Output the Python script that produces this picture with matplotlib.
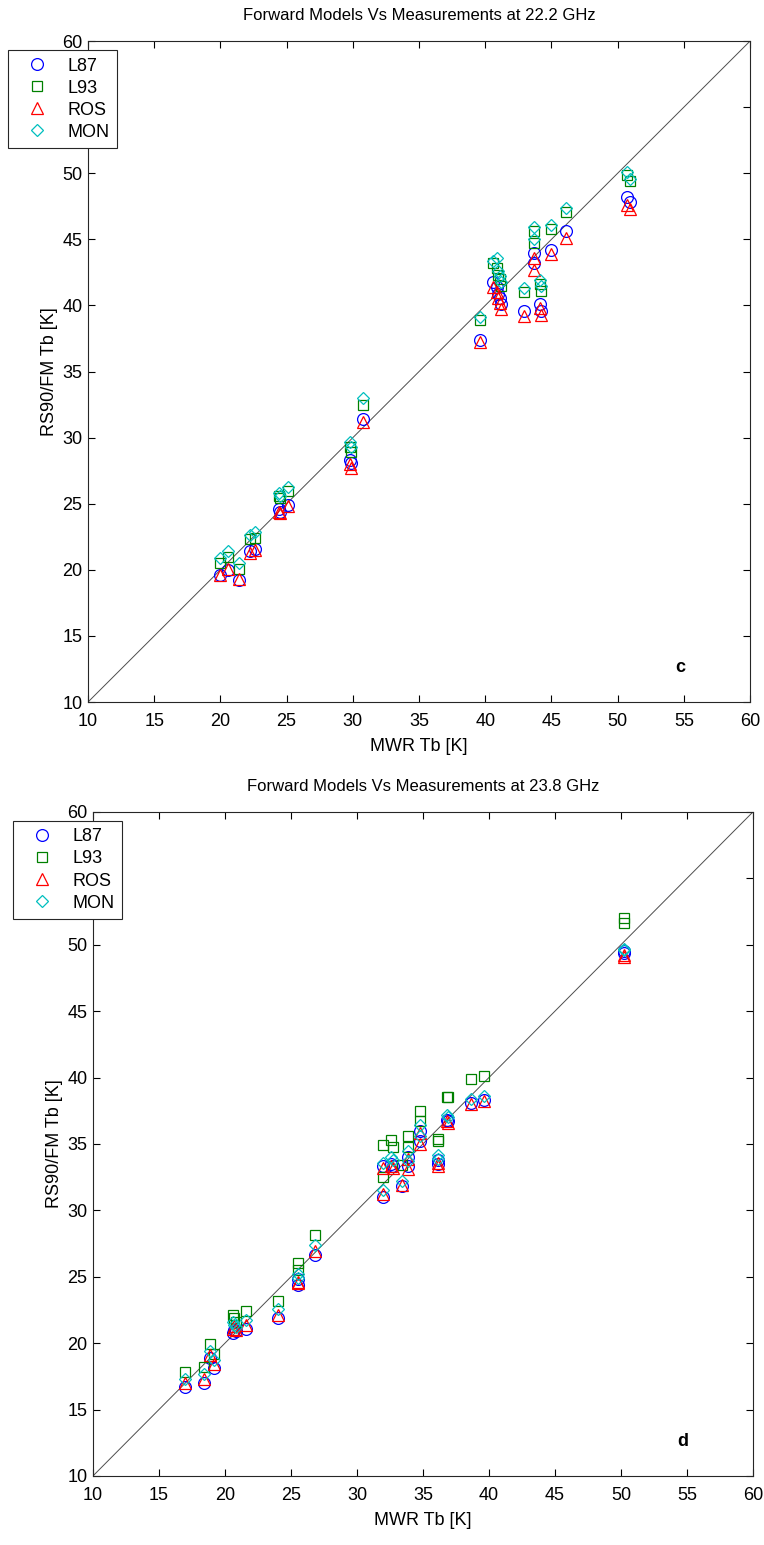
import numpy as np
import matplotlib
matplotlib.use('Agg')
import matplotlib.pyplot as plt

plt.rcParams['font.family'] = ['Liberation Sans', 'DejaVu Sans']

# 22.2 GHz channel: measured MWR Tb and the four forward-model Tb
mwr_22 = [20.0, 20.6, 21.4, 22.2, 22.6, 24.4, 24.5, 25.1, 29.8, 29.9, 30.8,
          39.6, 40.6, 40.9, 41.0, 41.1, 41.2, 42.9, 43.7, 43.7, 44.1, 44.2,
          45.0, 46.1, 50.7, 50.95]
l87_22 = [19.6, 20.0, 19.2, 21.4, 21.6, 24.6, 24.4, 24.9, 28.3, 28.1, 31.4,
          37.4, 41.8, 41.4, 40.9, 40.6, 40.1, 39.6, 44.0, 43.2, 40.1, 39.6,
          44.2, 45.6, 48.2, 47.8]
l93_22 = [20.5, 21.0, 20.1, 22.3, 22.4, 25.6, 25.4, 26.0, 29.3, 28.9, 32.5,
          38.9, 43.2, 42.8, 42.3, 42.0, 41.5, 41.0, 45.6, 44.7, 41.6, 41.1,
          45.8, 47.1, 49.9, 49.4]
ros_22 = [19.6, 20.1, 19.3, 21.3, 21.5, 24.4, 24.3, 24.8, 28.0, 27.7, 31.2,
          37.2, 41.4, 41.0, 40.6, 40.2, 39.7, 39.2, 43.6, 42.7, 39.8, 39.3,
          43.9, 45.1, 47.6, 47.3]
mon_22 = [20.9, 21.4, 20.5, 22.6, 22.9, 25.8, 25.6, 26.3, 29.7, 29.3, 33.0,
          39.1, 43.4, 43.6, 42.6, 42.2, 41.8, 41.3, 45.9, 45.0, 41.9, 41.5,
          46.1, 47.4, 50.1, 49.6]

# 23.8 GHz channel
mwr_23 = [17.0, 18.4, 18.9, 19.2, 20.6, 20.7, 20.8, 21.6, 24.0, 25.5, 25.5,
          26.8, 32.0, 32.0, 32.6, 32.7, 33.4, 33.9, 33.9, 34.8, 34.8, 36.1,
          36.15, 36.8, 36.9, 38.6, 39.6, 50.2, 50.2]
l87_23 = [16.7, 17.0, 18.9, 18.1, 20.8, 21.0, 20.9, 21.1, 21.9, 24.8, 24.4,
          26.6, 31.0, 33.3, 33.5, 33.3, 31.8, 34.0, 33.3, 36.0, 35.2, 33.8,
          33.5, 36.8, 36.7, 38.1, 38.3, 49.5, 49.4]
l93_23 = [17.8, 18.2, 19.9, 19.2, 22.1, 21.9, 21.6, 22.4, 23.2, 26.0, 25.5,
          28.15, 32.5, 34.9, 35.3, 34.8, 33.4, 35.6, 34.8, 37.5, 36.75, 35.4,
          35.2, 38.55, 38.5, 39.9, 40.1, 52.0, 51.6]
ros_23 = [17.0, 17.3, 19.1, 18.4, 21.1, 21.3, 21.0, 21.4, 22.1, 24.6, 24.5,
          26.9, 31.2, 33.2, 33.3, 33.2, 31.9, 33.9, 33.1, 35.8, 35.0, 33.6,
          33.3, 36.7, 36.6, 38.0, 38.2, 49.2, 49.1]
mon_23 = [17.3, 17.7, 19.4, 18.7, 21.6, 21.4, 21.2, 21.75, 22.55, 25.2, 24.9,
          27.4, 31.5, 33.6, 34.0, 33.8, 32.2, 34.5, 33.7, 36.4, 35.6, 34.2,
          33.9, 37.2, 37.0, 38.4, 38.6, 49.7, 49.6]

names = ['L87', 'L93', 'ROS', 'MON']
styles = [('o', 'b', 8.5), ('s', (0, 0.5, 0), 7.5),
          ('^', 'r', 8.5), ('D', (0, 0.75, 0.75), 6.0)]
ticks = np.arange(10, 61, 5)


def panel(ax, mwr, models, title, tag):
    ax.plot([10, 60], [10, 60], color='0.3', lw=0.7, zorder=1)
    for vals, name, (m, c, ms) in zip(models, names, styles):
        ax.plot(mwr, vals, ls='none', marker=m, mfc='none', mec=c,
                ms=ms, mew=0.9, label=name, zorder=2)
    ax.set_xlim(10, 60)
    ax.set_ylim(10, 60)
    ax.set_xticks(ticks)
    ax.set_yticks(ticks)
    # the 55 label sits under the legend box anyway
    ax.set_yticklabels([str(t) if t != 55 else '' for t in ticks])
    ax.tick_params(direction='in', top=True, right=True, length=5,
                   labelsize=13)
    ax.tick_params(axis='x', pad=8)
    ax.tick_params(axis='y', pad=4)
    for s in ax.spines.values():
        s.set_linewidth(0.8)
        s.set_color('0.15')
    ax.set_title(title, fontsize=12, pad=15)
    ax.set_xlabel('MWR Tb [K]', fontsize=13, labelpad=6)
    ax.set_ylabel('RS90/FM Tb [K]', fontsize=13, labelpad=3)
    ax.text(54.7, 12.6, tag, fontsize=13, fontweight='bold',
            ha='center', va='center')
    leg = ax.legend(loc='upper left', bbox_to_anchor=(-0.121, 0.986),
                    borderaxespad=0, numpoints=1, fontsize=13,
                    fancybox=False, edgecolor='0.15', framealpha=1,
                    labelspacing=0.28, borderpad=0.4, handlelength=2.4,
                    handletextpad=0.5)
    leg.get_frame().set_linewidth(0.8)


fig = plt.figure(figsize=(7.64, 15.45), dpi=100)
ax1 = fig.add_axes([0.1152, 0.5456, 0.8665, 0.4278])
ax2 = fig.add_axes([0.1217, 0.0447, 0.8639, 0.4298])

panel(ax1, mwr_22, [l87_22, l93_22, ros_22, mon_22],
      'Forward Models Vs Measurements at 22.2 GHz', 'c')
panel(ax2, mwr_23, [l87_23, l93_23, ros_23, mon_23],
      'Forward Models Vs Measurements at 23.8 GHz', 'd')

fig.savefig('out.png', dpi=100)
